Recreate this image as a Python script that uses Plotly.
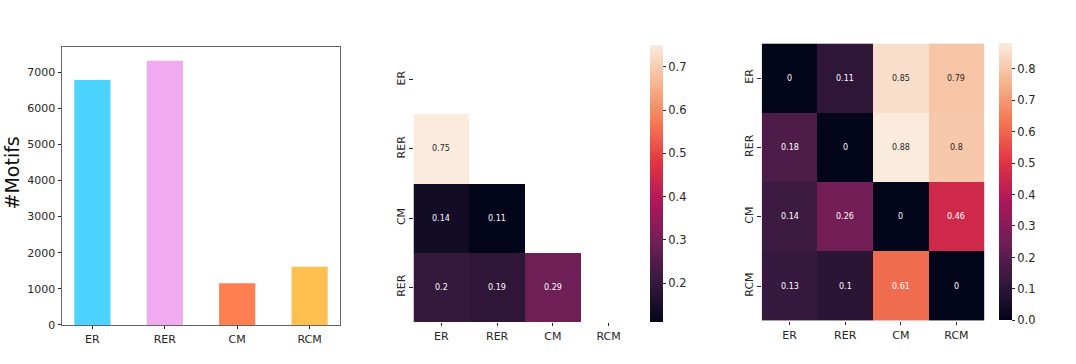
import plotly.graph_objects as go

models = ["ER", "RER", "CM", "RCM"]
motif_counts = [6780, 7310, 1150, 1610]
bar_colors = ["#4cd2ff", "#f1a9f0", "#ff7f50", "#ffc04f"]

# lower triangle (row labels as printed in the original, last one reads "RER")
tri_rows = ["ER", "RER", "CM", "RER"]
tri_vals = [
    [None, None, None, None],
    [0.75, None, None, None],
    [0.14, 0.11, None, None],
    [0.2, 0.19, 0.29, None],
]

full_rows = ["ER", "RER", "CM", "RCM"]
full_vals = [
    [0, 0.11, 0.85, 0.79],
    [0.18, 0, 0.88, 0.8],
    [0.14, 0.26, 0, 0.46],
    [0.13, 0.1, 0.61, 0],
]

# seaborn "rocket"
rocket = [
    [0.0, "#03051a"], [0.143, "#35193e"], [0.286, "#701f57"], [0.429, "#ad1759"],
    [0.571, "#e13342"], [0.714, "#f37651"], [0.857, "#f6b48f"], [1.0, "#faebdd"],
]

W, H = 1076, 364
HE = 356  # the page ends up drawing the plot this tall
def px_x(a, b):
    return [a / W, b / W]
def px_y(top, bottom):
    return [1 - bottom / HE, 1 - top / HE]

font = "DejaVu Sans"
fig = go.Figure()

fig.add_trace(go.Bar(
    x=list(range(len(models))), y=motif_counts, marker_color=bar_colors,
    marker_line_width=0, width=0.5, xaxis="x", yaxis="y", showlegend=False,
))

def add_heat(vals, zmin, zmax, xa, ya, cb_x, cb_top, cb_bot, dtick):
    fig.add_trace(go.Heatmap(
        z=vals, x=list(range(4)), y=list(range(4)), colorscale=rocket,
        zmin=zmin, zmax=zmax, xaxis=xa, yaxis=ya, hoverongaps=False,
        colorbar=dict(
            x=cb_x / W, xanchor="left", xpad=0, thickness=13,
            len=(cb_bot - cb_top) / HE, lenmode="fraction",
            y=1 - cb_top / HE, yanchor="top", ypad=0,
            outlinewidth=0, ticks="outside", ticklen=3.5, tickcolor="#262626",
            dtick=dtick, tick0=0, tickformat=".1f",
            tickfont=dict(family=font, size=11.5, color="#262626"),
        ),
    ))
    for i, row in enumerate(vals):
        for j, v in enumerate(row):
            if v is None:
                continue
            rel = (v - zmin) / (zmax - zmin)
            fig.add_annotation(
                x=j, y=i, xref=xa, yref=ya, text=f"{v:g}", showarrow=False,
                font=dict(family=font, size=8, color="#262626" if rel > 0.8 else "white"),
            )

add_heat(tri_vals, 0.11, 0.75, "x2", "y2", 650, 45, 321, 0.1)
add_heat(full_vals, 0, 0.88, "x3", "y3", 998.5, 43.3, 320, 0.1)

# y label of the bar chart
fig.add_annotation(
    x=12 / W, y=1 - 173 / HE, xref="paper", yref="paper", text="#Motifs",
    textangle=-90, showarrow=False, xanchor="center", yanchor="middle",
    font=dict(family=font, size=19, color="#111"),
)

tick_font = dict(family=font, size=11, color="#262626")
heat_x = dict(
    tickmode="array", tickvals=list(range(4)), ticktext=models, range=[-0.5, 3.5],
    ticks="outside", ticklen=3.5, tickcolor="#262626", tickfont=tick_font,
    showgrid=False, zeroline=False, showline=False,
)

fig.update_layout(
    width=W, height=H, autosize=False, margin=dict(l=0, r=0, t=0, b=0),
    plot_bgcolor="white", paper_bgcolor="white",
    xaxis=dict(
        domain=px_x(62, 340), range=[-0.42, 3.42], tickmode="array",
        tickvals=list(range(4)), ticktext=models, ticks="outside", ticklen=3.5,
        tickcolor="#262626", tickfont=tick_font, showgrid=False, zeroline=False,
        showline=True, mirror=True, linecolor="#666", linewidth=1,
    ),
    yaxis=dict(
        domain=px_y(47, 324), range=[0, 7690], dtick=1000, ticks="outside",
        ticklen=3.5, tickcolor="#262626", tickfont=tick_font, showgrid=False,
        zeroline=False, showline=True, mirror=True, linecolor="#666", linewidth=1,
    ),
    xaxis2=dict(heat_x, domain=px_x(413.5, 636.5), anchor="y2"),
    yaxis2=dict(
        domain=px_y(45, 321), range=[3.5, -0.5], anchor="x2", tickmode="array",
        tickvals=list(range(4)), ticktext=tri_rows, tickangle=-90, ticks="outside",
        ticklen=3.5, tickcolor="#262626", tickfont=tick_font, showgrid=False,
        zeroline=False, showline=False,
    ),
    xaxis3=dict(heat_x, domain=px_x(761.7, 984.3), anchor="y3"),
    yaxis3=dict(
        domain=px_y(43.3, 320), range=[3.5, -0.5], anchor="x3", tickmode="array",
        tickvals=list(range(4)), ticktext=full_rows, tickangle=-90, ticks="outside",
        ticklen=3.5, tickcolor="#262626", tickfont=tick_font, showgrid=False,
        zeroline=False, showline=False,
    ),
)

# drop the default body margin so the figure sits at the page corner
fig.write_html(
    "out.html",
    config={"displayModeBar": False, "responsive": False},
    post_script="document.body.style.margin='0';",
)
